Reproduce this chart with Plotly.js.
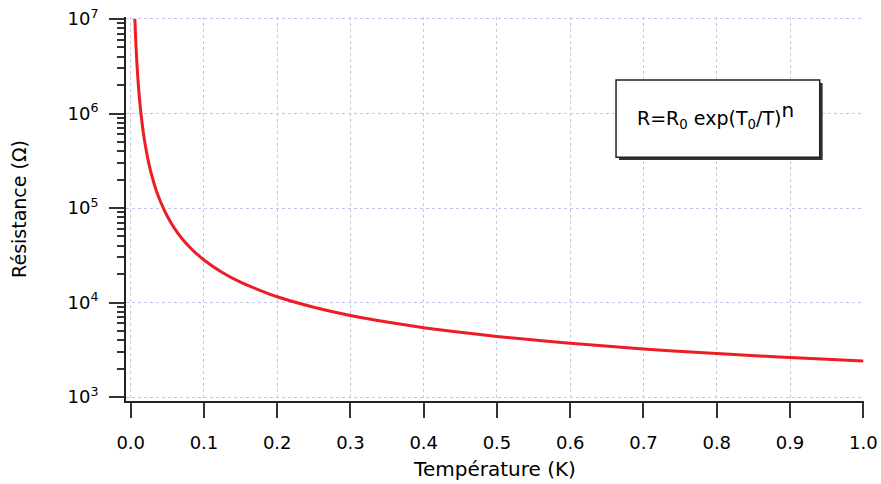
<!DOCTYPE html>
<html>
<head>
<meta charset="utf-8">
<script src="https://cdn.plot.ly/plotly-3.0.1.min.js"></script>
<style>html,body{margin:0;padding:0;background:#fff;}#chart{width:881px;height:484px;}</style>
</head>
<body>
<div id="chart"></div>
<script>
// Température (K) and Résistance (Ω)
const temperature = [0.0057, 0.0065, 0.0075, 0.0085, 0.010, 0.012, 0.014, 0.017, 0.020, 0.025, 0.030, 0.035, 0.040, 0.050, 0.060, 0.070, 0.080, 0.090, 0.100, 0.125, 0.150, 0.175, 0.200, 0.250, 0.300, 0.350, 0.400, 0.450, 0.500, 0.600, 0.700, 0.800, 0.900, 1.000];
const resistance = [1.0e7, 7.02e6, 4.74e6, 3.39e6, 2.25e6, 1.44e6, 1.0e6, 6.5e5, 4.58e5, 2.9e5, 2.04e5, 1.52e5, 1.2e5, 8.18e4, 6.05e4, 4.75e4, 3.89e4, 3.28e4, 2.82e4, 2.08e4, 1.64e4, 1.36e4, 1.15e4, 8.91e3, 7.29e3, 6.21e3, 5.42e3, 4.84e3, 4.38e3, 3.70e3, 3.23e3, 2.88e3, 2.62e3, 2.40e3];

const xTickVals = [0, 0.1, 0.2, 0.3, 0.4, 0.5, 0.6, 0.7, 0.8, 0.9, 1.0];
const xTickText = ["0.0", "0.1", "0.2", "0.3", "0.4", "0.5", "0.6", "0.7", "0.8", "0.9", "1.0"];
const yTickVals = [1e3, 1e4, 1e5, 1e6, 1e7];
const yTickText = ["10<sup>3</sup>", "10<sup>4</sup>", "10<sup>5</sup>", "10<sup>6</sup>", "10<sup>7</sup>"];
const yMinorVals = [];
[1e3, 1e4, 1e5, 1e6].forEach(d => { for (let k = 2; k <= 9; k++) yMinorVals.push(d * k); });

const xTitle = "Température (K)";
const yTitle = "Résistance (Ω)";
const formula = "R=R<sub>0</sub> exp(T<sub>0</sub>/T)<sup><span style=\"font-size:20px\">n</span></sup>";

const font = "DejaVu Sans, Liberation Sans, Arial, sans-serif";
const gridColor = "#c4c4e4";

const trace = {
  x: temperature, y: resistance,
  type: "scatter", mode: "lines",
  line: {color: "#ee1c25", width: 3, shape: "spline", smoothing: 1},
  hoverinfo: "none"
};

const layout = {
  width: 881, height: 484,
  margin: {l: 126, r: 17, t: 17, b: 83},
  paper_bgcolor: "#fff", plot_bgcolor: "#fff",
  showlegend: false,
  font: {family: font, size: 18, color: "#000"},
  xaxis: {
    range: [-0.0064, 1.001],
    tickmode: "array", tickvals: xTickVals, ticktext: xTickText,
    ticks: "outside", ticklen: 15, tickwidth: 2, tickcolor: "#333",
    ticklabelstandoff: 9,
    showline: true, linecolor: "#222", linewidth: 2, mirror: false,
    showgrid: true, gridcolor: gridColor, griddash: "dot", gridwidth: 1,
    zeroline: false,
    tickfont: {family: font, size: 18, color: "#000"},
    title: {text: xTitle, font: {family: font, size: 20, color: "#000"}, standoff: 10}
  },
  yaxis: {
    type: "log",
    range: [2.958, 7.021],
    tickmode: "array", tickvals: yTickVals, ticktext: yTickText,
    ticks: "outside", ticklen: 15, tickwidth: 2, tickcolor: "#333",
    ticklabelstandoff: 7,
    minor: {tickmode: "array", tickvals: yMinorVals, ticks: "outside", ticklen: 7, tickwidth: 2, tickcolor: "#333", showgrid: false},
    showline: true, linecolor: "#222", linewidth: 2, mirror: false,
    showgrid: true, gridcolor: gridColor, griddash: "dot", gridwidth: 1,
    zeroline: false,
    tickfont: {family: font, size: 18, color: "#000"},
    title: {text: yTitle, font: {family: font, size: 19, color: "#000"}, standoff: 36}
  },
  shapes: [
    {type: "rect", xref: "paper", yref: "paper", x0: 0.668, x1: 0.944, y0: 0.6276, y1: 0.828,
     fillcolor: "#333", line: {width: 0}, layer: "above"},
    {type: "rect", xref: "paper", yref: "paper", x0: 0.664, x1: 0.940, y0: 0.635, y1: 0.836,
     fillcolor: "#fff", line: {color: "#222", width: 1.5}, layer: "above"}
  ],
  annotations: [
    {xref: "paper", yref: "paper", x: 0.799, y: 0.745, xanchor: "center", yanchor: "middle",
     text: formula, showarrow: false, font: {family: font, size: 19, color: "#000"}}
  ]
};

Plotly.newPlot("chart", [trace], layout, {displayModeBar: false, staticPlot: true});
</script>
</body>
</html>
